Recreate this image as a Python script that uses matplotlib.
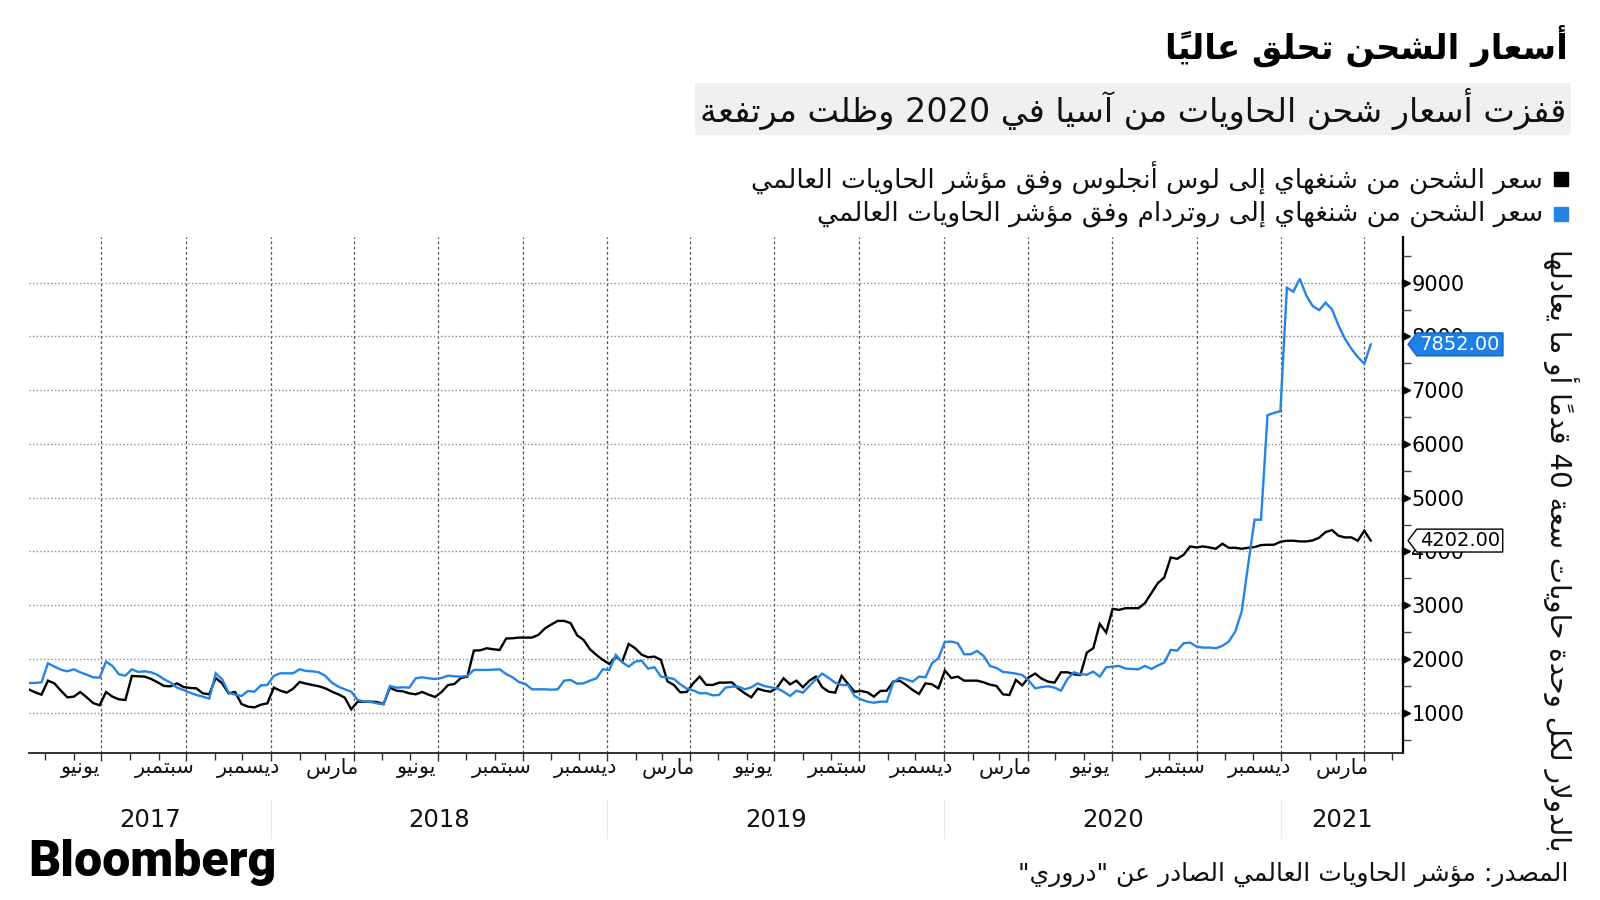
import numpy as np
import pandas as pd
import matplotlib
matplotlib.use('Agg')
import matplotlib.pyplot as plt
import matplotlib.dates as mdates
import matplotlib.transforms as mtransforms
from matplotlib.path import Path
from matplotlib.patches import Rectangle
from matplotlib.ticker import MultipleLocator

plt.rcParams['font.family'] = ['DejaVu Sans']

# ---------------- data ----------------
start_date = '2017-04-13'   # weekly (Thursday) observations

la_values = [
    1435, 1379, 1335, 1596, 1546, 1410, 1286, 1298, 1385, 1286,
    1180, 1137, 1385, 1298, 1248, 1236, 1683, 1677, 1671, 1627,
    1565, 1497, 1491, 1546, 1478, 1460, 1453, 1360, 1342, 1646,
    1546, 1360, 1385, 1161, 1112, 1099, 1149, 1174, 1466, 1410,
    1373, 1447, 1571, 1540, 1515, 1491, 1453, 1391, 1342, 1279,
    1062, 1205, 1205, 1205, 1199, 1161, 1466, 1410, 1397, 1360,
    1342, 1385, 1335, 1292, 1385, 1515, 1534, 1646, 1671, 2155,
    2161, 2199, 2180, 2167, 2379, 2385, 2397, 2397, 2397, 2447,
    2566, 2640, 2708, 2708, 2665, 2441, 2354, 2180, 2074, 1981,
    1907, 2043, 1950, 2279, 2199, 2080, 2031, 2043, 1981, 1584,
    1515, 1379, 1385, 1546, 1671, 1520, 1515, 1559, 1559, 1565,
    1447, 1360, 1286, 1447, 1410, 1391, 1466, 1640, 1528, 1596,
    1472, 1596, 1671, 1472, 1391, 1373, 1683, 1534, 1391, 1404,
    1379, 1298, 1404, 1410, 1578, 1596, 1515, 1422, 1348, 1546,
    1528, 1453, 1783, 1646, 1671, 1596, 1596, 1596, 1565, 1522,
    1497, 1342, 1329, 1609, 1509, 1658, 1727, 1633, 1578, 1559,
    1752, 1752, 1714, 1702, 2118, 2199, 2652, 2491, 2932, 2913,
    2944, 2944, 2944, 3037, 3224, 3410, 3515, 3888, 3863, 3938,
    4093, 4074, 4093, 4074, 4050, 4143, 4068, 4068, 4050, 4068,
    4081, 4118, 4124, 4124, 4180, 4199, 4199, 4186, 4186, 4205,
    4255, 4360, 4397, 4292, 4261, 4261, 4199, 4385, 4202,
]

rotterdam_values = [
    1553, 1553, 1565, 1919, 1857, 1801, 1770, 1807, 1751, 1708,
    1658, 1652, 1950, 1869, 1714, 1689, 1807, 1758, 1770, 1751,
    1702, 1621, 1559, 1466, 1422, 1373, 1329, 1298, 1261, 1733,
    1621, 1373, 1335, 1311, 1404, 1391, 1509, 1515, 1683, 1733,
    1733, 1733, 1807, 1776, 1770, 1751, 1683, 1559, 1484, 1435,
    1391, 1236, 1210, 1199, 1174, 1155, 1497, 1466, 1472, 1466,
    1640, 1658, 1640, 1627, 1646, 1689, 1677, 1671, 1683, 1795,
    1795, 1795, 1801, 1807, 1720, 1658, 1571, 1534, 1435, 1435,
    1435, 1428, 1435, 1596, 1609, 1540, 1546, 1596, 1640, 1807,
    1795, 2074, 1938, 1857, 1950, 1969, 1820, 1845, 1671, 1652,
    1627, 1528, 1447, 1416, 1360, 1365, 1323, 1329, 1466, 1484,
    1484, 1435, 1472, 1546, 1497, 1472, 1453, 1391, 1311, 1410,
    1373, 1497, 1621, 1727, 1646, 1559, 1515, 1515, 1311, 1248,
    1205, 1186, 1205, 1205, 1559, 1652, 1621, 1578, 1671, 1658,
    1919, 2012, 2316, 2323, 2292, 2087, 2087, 2149, 2056, 1869,
    1832, 1758, 1745, 1727, 1702, 1596, 1453, 1478, 1490, 1466,
    1410, 1627, 1752, 1714, 1708, 1764, 1671, 1845, 1857, 1870,
    1820, 1814, 1807, 1870, 1814, 1876, 1932, 2168, 2155, 2292,
    2304, 2230, 2211, 2211, 2199, 2242, 2323, 2509, 2882, 3751,
    4590, 4590, 6534, 6577, 6608, 8907, 8832, 9074, 8764, 8565,
    8490, 8627, 8503, 8205, 7956, 7770, 7615, 7491, 7852,
]

title_text = 'أسعار الشحن تحلق عالياً'
subtitle_text = 'قفزت أسعار شحن الحاويات من آسيا في 2020 وظلت مرتفعة'
legend_la = 'سعر الشحن من شنغهاي إلى لوس أنجلوس وفق مؤشر الحاويات العالمي'
legend_rtm = 'سعر الشحن من شنغهاي إلى روتردام وفق مؤشر الحاويات العالمي'
ylabel_text = 'بالدولار لكل وحدة حاويات سعة 40 قدماً أو ما يعادلها'
source_text = 'المصدر: مؤشر الحاويات العالمي الصادر عن "دروري"'
brand_text = 'Bloomberg'
month_names = {3: 'مارس', 6: 'يونيو', 9: 'سبتمبر', 12: 'ديسمبر'}
month_label_dates = [(2017, 6), (2017, 9), (2017, 12),
                     (2018, 3), (2018, 6), (2018, 9), (2018, 12),
                     (2019, 3), (2019, 6), (2019, 9), (2019, 12),
                     (2020, 3), (2020, 6), (2020, 9), (2020, 12),
                     (2021, 3)]
year_labels = ['2017', '2018', '2019', '2020', '2021']
y_ticks = [1000, 2000, 3000, 4000, 5000, 6000, 7000, 8000, 9000]
x_end = '2021-05-13'

BLUE = '#2484e4'

# ---------------- minimal Arabic shaping (presentation forms + visual order) ----------------
_DUAL = {0x0626: 0xFE89, 0x0628: 0xFE8F, 0x062A: 0xFE95, 0x062B: 0xFE99, 0x062C: 0xFE9D,
         0x062D: 0xFEA1, 0x062E: 0xFEA5, 0x0633: 0xFEB1, 0x0634: 0xFEB5, 0x0635: 0xFEB9,
         0x0636: 0xFEBD, 0x0637: 0xFEC1, 0x0638: 0xFEC5, 0x0639: 0xFEC9, 0x063A: 0xFECD,
         0x0641: 0xFED1, 0x0642: 0xFED5, 0x0643: 0xFED9, 0x0644: 0xFEDD, 0x0645: 0xFEE1,
         0x0646: 0xFEE5, 0x0647: 0xFEE9, 0x064A: 0xFEF1}
_RIGHT = {0x0622: 0xFE81, 0x0623: 0xFE83, 0x0624: 0xFE85, 0x0625: 0xFE87, 0x0627: 0xFE8D,
          0x0629: 0xFE93, 0x062F: 0xFEA9, 0x0630: 0xFEAB, 0x0631: 0xFEAD, 0x0632: 0xFEAF,
          0x0648: 0xFEED, 0x0649: 0xFEEF}
_LAMALEF = {0x0622: 0xFEF5, 0x0623: 0xFEF7, 0x0625: 0xFEF9, 0x0627: 0xFEFB}
_TRANSP = set(range(0x064B, 0x0653)) | {0x0670}


def _shape_word(w):
    cps = [ord(c) for c in w]
    n = len(cps)

    def prev_idx(i):
        j = i - 1
        while j >= 0 and cps[j] in _TRANSP:
            j -= 1
        return j

    def next_idx(i):
        j = i + 1
        while j < n and cps[j] in _TRANSP:
            j += 1
        return j

    out = []
    i = 0
    while i < n:
        c = cps[i]
        if c in _DUAL or c in _RIGHT:
            p = prev_idx(i)
            joins_prev = p >= 0 and cps[p] in _DUAL
            nx = next_idx(i)
            if c == 0x0644 and nx < n and cps[nx] in _LAMALEF:
                out.append(chr(_LAMALEF[cps[nx]] + (1 if joins_prev else 0)))
                out.extend(chr(x) for x in cps[i + 1:nx])
                i = nx + 1
                continue
            joins_next = c in _DUAL and nx < n and (cps[nx] in _DUAL or cps[nx] in _RIGHT)
            if c in _DUAL:
                base = _DUAL[c]
                off = 3 if (joins_prev and joins_next) else 1 if joins_prev else 2 if joins_next else 0
            else:
                base = _RIGHT[c]
                off = 1 if joins_prev else 0
            out.append(chr(base + off))
        else:
            out.append(chr(c))
        i += 1
    return out


def ar(text):
    vis = []
    for w in text.split(' '):
        if any(0x0600 <= ord(ch) <= 0x06FF for ch in w):
            clusters = []
            for g in _shape_word(w):
                if ord(g) in _TRANSP and clusters:
                    clusters[-1] += g
                else:
                    clusters.append(g)
            vis.append(''.join(reversed(clusters)))
        else:
            vis.append(w)
    return ' '.join(reversed(vis))


# ---------------- figure ----------------
W, H = 1600, 900
fig = plt.figure(figsize=(W / 100, H / 100), dpi=100)
fig.patch.set_facecolor('white')


def fx(px):
    return px / W


def fy(py):
    return 1 - py / H


dates = pd.date_range(start_date, periods=len(la_values), freq='7D')

ax = fig.add_axes([fx(28.6), fy(753), (1403 - 28.6) / W, (753 - 237) / H])
ax.plot(dates, la_values, color='black', lw=1.7, zorder=3, solid_joinstyle='miter')
ax.plot(dates, rotterdam_values, color=BLUE, lw=1.7, zorder=3.1, solid_joinstyle='miter')

ax.set_xlim(dates[0], pd.Timestamp(x_end))
ax.set_ylim(250, 9850)

for s in ('left', 'top'):
    ax.spines[s].set_visible(False)
ax.spines['right'].set_color('black')
ax.spines['right'].set_linewidth(1.6)
ax.spines['bottom'].set_color('#222222')
ax.spines['bottom'].set_linewidth(1.3)

# y axis on the right
ax.yaxis.tick_right()
ax.set_yticks(y_ticks)
ax.set_yticklabels([str(v) for v in y_ticks])
ax.yaxis.set_minor_locator(MultipleLocator(500))
ax.tick_params(axis='y', which='major', length=0, pad=6, labelsize=15, labelcolor='black')
ax.tick_params(axis='y', which='minor', length=6, width=1, color='#444444')
ax.grid(axis='y', which='major', ls=(0, (1, 1.6)), color='#8a8a8a', lw=1)

tri_tr = mtransforms.offset_copy(ax.get_yaxis_transform(), fig=fig, x=3, y=0, units='dots')
ax.plot([1] * len(y_ticks), y_ticks, ls='none', marker='>', ms=6, color='black',
        transform=tri_tr, clip_on=False, zorder=5)

# x axis
ax.xaxis.set_major_locator(mdates.MonthLocator(bymonth=[1, 4, 7, 10]))
ax.xaxis.set_minor_locator(mdates.MonthLocator())
ax.tick_params(axis='x', which='both', labelbottom=False, direction='out', color='#333333')
ax.tick_params(axis='x', which='major', length=6, width=1)
ax.tick_params(axis='x', which='minor', length=5, width=1)
ax.grid(axis='x', which='major', ls=(0, (2.2, 2)), color='#555555', lw=0.9)

xtr = ax.get_xaxis_transform()
for (yr, mo) in month_label_dates:
    d = pd.Timestamp(year=yr, month=mo, day=8)
    ax.text(d, -0.03, ar(month_names[mo]), transform=xtr, ha='center', va='center',
            fontsize=15, color='#111111')

x0n, x1n = ax.get_xlim()
bounds = [x0n] + [mdates.date2num(pd.Timestamp(f'{y}-01-01')) for y in (2018, 2019, 2020, 2021)] + [x1n]
for k, lab in enumerate(year_labels):
    c = (bounds[k] + bounds[k + 1]) / 2
    ax.text(c, -0.13, lab, transform=xtr, ha='center', va='center', fontsize=17.5, color='#111111')
for b in bounds[1:-1]:
    ax.plot([b, b], [-0.09, -0.165], transform=xtr, color='#ebebeb', lw=1, clip_on=False)


# value tags
def tag_box(x0, y0, width, height, mutation_size):
    pad = 0.1 * mutation_size
    xa, ya = x0 - pad * 1.5, y0 - pad
    xb, yb = x0 + width + pad * 1.5, y0 + height + pad
    tip = (yb - ya) * 0.38
    ym = (ya + yb) / 2
    return Path([(xa, ya), (xb, ya), (xb, yb), (xa, yb), (xa - tip, ym), (xa, ya)], closed=True)


ytr = ax.get_yaxis_transform()
ax.annotate(f'{rotterdam_values[-1]:.2f}', xy=(1, rotterdam_values[-1]), xycoords=ytr,
            xytext=(12, 0), textcoords='offset points', ha='left', va='center',
            fontsize=14, color='white', annotation_clip=False, zorder=6,
            bbox=dict(boxstyle=tag_box, fc='#1e80e6', ec='#1565c0', lw=1))
ax.annotate(f'{la_values[-1]:.2f}', xy=(1, la_values[-1]), xycoords=ytr,
            xytext=(12, 0), textcoords='offset points', ha='left', va='center',
            fontsize=14, color='black', annotation_clip=False, zorder=6,
            bbox=dict(boxstyle=tag_box, fc='white', ec='black', lw=1))

# ---------------- texts ----------------
fig.text(fx(1568), fy(46), ar(title_text), ha='right', va='center', fontsize=24.5,
         weight='bold', color='black')
fig.text(fx(1566), fy(109), ar(subtitle_text), ha='right', va='center', fontsize=24,
         color='#111111', bbox=dict(boxstyle='square,pad=0.15', fc='#f0f0f0', ec='none'))

fig.patches.append(Rectangle((fx(1554), fy(186)), 14 / W, 14 / H, transform=fig.transFigure,
                             color='black'))
fig.patches.append(Rectangle((fx(1554), fy(221)), 14 / W, 14 / H, transform=fig.transFigure,
                             color=BLUE))
fig.text(fx(1543), fy(178.5), ar(legend_la), ha='right', va='center', fontsize=19, color='#111111')
fig.text(fx(1543), fy(214), ar(legend_rtm), ha='right', va='center', fontsize=19, color='#111111')

fig.text(fx(1561), fy(550), ar(ylabel_text), rotation=-90, ha='center', va='center',
         fontsize=20, color='#111111')

fig.text(fx(28), fy(862), brand_text, family='Roboto', weight='black', fontsize=36,
         ha='left', va='center', color='black')
fig.text(fx(1568), fy(874), ar(source_text), ha='right', va='center', fontsize=18, color='#111111')

fig.savefig('out.png', dpi=100, facecolor='white')
